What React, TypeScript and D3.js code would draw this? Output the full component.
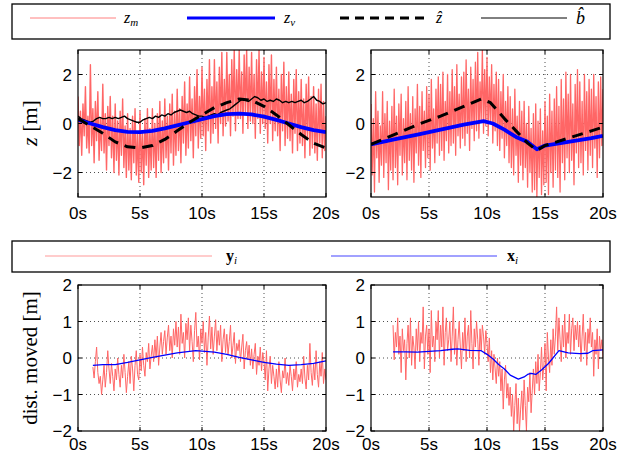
import React from 'react';
import * as d3 from 'd3';

const W = 633;
const H = 455;

const SANS = "'Liberation Sans', Arial, Helvetica, sans-serif";
const SERIF = "'Liberation Serif', 'Times New Roman', serif";

const RED = '#ff6666';
const BLUE = '#0000ff';

const xTickValues = [0, 5, 10, 15, 20];

// ---- top row, left: measured z_m, 0..20 s every 0.1 s
const zmLeft = [
  1.1, -0.9, 0.5, -1.3, 0.8, -0.5, 1.5, -1.0, 0.3, -1.2,
  2.4, -0.9, 0.6, -1.6, 0.9, -0.7, 1.3, -1.5, 0.2, -1.1,
  1.6, -1.2, 0.4, -1.9, 0.7, -0.9, 1.1, -1.4, 0.3, -2.0,
  0.8, -1.5, 0.1, -2.1, 0.5, -1.3, 1.0, -1.8, -0.1, -2.2,
  0.4, -1.9, -0.2, -2.3, 0.3, -1.6, 0.6, -2.1, -0.4, -2.4,
  0.5, -2.0, -0.3, -2.5, 0.2, -1.7, 0.6, -2.2, -0.2, -1.9,
  0.6, -1.8, 0.0, -2.2, 0.4, -1.5, 0.9, -2.0, 0.1, -1.6,
  1.0, -1.4, 0.3, -1.9, 0.8, -1.2, 1.2, -1.7, 0.5, -1.3,
  1.4, -1.1, 0.6, -1.6, 1.1, -0.8, 1.7, -1.3, 0.8, -1.0,
  1.9, -0.7, 1.0, -1.4, 1.5, -0.5, 2.2, -1.0, 1.1, -0.6,
  2.3, -0.5, 1.4, -1.1, 1.8, -0.3, 2.6, -0.8, 1.5, -0.4,
  2.6, -0.2, 1.7, -0.8, 2.3, 0.0, 2.9, -0.5, 1.8, -0.1,
  2.9, 0.1, 2.0, -0.5, 2.6, 0.3, 3.0, -0.3, 2.2, 0.2,
  3.0, 0.2, 2.1, -0.4, 2.8, 0.4, 3.0, -0.2, 2.3, 0.1,
  2.9, 0.0, 2.0, -0.6, 2.6, 0.2, 3.0, -0.4, 2.1, 0.0,
  2.7, -0.2, 1.7, -0.8, 2.4, 0.0, 2.8, -0.7, 1.8, -0.3,
  2.3, -0.5, 1.4, -1.1, 2.0, -0.3, 2.5, -0.9, 1.5, -0.6,
  2.1, -0.7, 1.2, -1.2, 1.8, -0.4, 2.2, -1.1, 1.3, -0.8,
  1.8, -0.9, 1.0, -1.4, 1.6, -0.6, 1.9, -1.3, 1.1, -1.0,
  1.5, -1.2, 0.8, -1.5, 1.4, -0.8, 1.6, -1.4, 0.9, -1.1,
  0.3,
];

// velocity-filter estimate z_v
const zvLeftT = [0, 1, 2, 3, 4, 5, 6, 7, 8, 9, 10, 11, 12, 13, 14, 15, 16, 17, 18, 19, 20];
const zvLeftV = [0.15, 0.0, -0.15, -0.27, -0.34, -0.35, -0.3, -0.2, -0.08, 0.05, 0.18, 0.3, 0.38, 0.4, 0.37, 0.28, 0.15, 0.0, -0.15, -0.27, -0.35];

// estimate z-hat
const zhLeftT = [0, 1, 2, 3, 4, 5, 6, 7, 8, 9, 10, 11, 12, 13, 14, 15, 16, 17, 18, 19, 20];
const zhLeftV = [0.2, -0.1, -0.4, -0.75, -0.95, -1.0, -0.9, -0.65, -0.3, 0.05, 0.35, 0.65, 0.85, 1.0, 0.95, 0.7, 0.35, -0.05, -0.45, -0.8, -1.0];

// bias estimate b-hat (0..20 s, every 0.25 s)
const bHatLeft = [
  0.3, 0.2, 0.15, 0.1, 0.05, 0.1, 0.2, 0.25, 0.2, 0.2,
  0.25, 0.2, 0.25, 0.2, 0.25, 0.3, 0.2, 0.15, 0.1, 0.05,
  0.05, 0.15, 0.2, 0.25, 0.2, 0.3, 0.25, 0.35, 0.3, 0.4,
  0.35, 0.45, 0.5, 0.55, 0.5, 0.45, 0.5, 0.4, 0.35, 0.3,
  0.3, 0.25, 0.3, 0.35, 0.4, 0.35, 0.45, 0.5, 0.55, 0.6,
  0.7, 0.8, 0.9, 1.0, 0.95, 0.9, 1.0, 1.1, 1.05, 0.95,
  1.0, 0.9, 0.95, 0.9, 1.0, 0.95, 0.85, 0.9, 0.85, 0.9,
  0.85, 0.9, 0.95, 0.85, 0.9, 1.0, 1.1, 0.95, 0.9, 0.8,
  0.85,
];

// ---- top row, right: measured z_m, 0..20 s every 0.1 s
const zmRight = [
  0.8, -2.1, 0.2, -2.8, 1.3, -1.4, 0.5, -2.4, -0.1, -1.7,
  1.3, -2.2, 0.4, -1.6, 0.9, -2.7, 0.1, -1.9, 0.7, -2.3,
  1.4, -1.8, 0.3, -2.5, 0.8, -1.3, 1.2, -2.1, 0.2, -1.6,
  0.9, -2.3, 1.5, -1.5, 0.4, -1.9, 1.1, -2.4, 0.6, -1.2,
  1.6, -1.7, 0.7, -2.2, 1.3, -1.1, 0.5, -1.8, 1.5, -1.4,
  1.2, -1.9, 1.8, -1.0, 0.6, -1.6, 1.4, -0.8, 1.9, -1.3,
  1.6, -1.1, 2.1, -1.5, 0.9, -0.7, 2.0, -1.2, 1.3, -0.9,
  2.2, -0.8, 1.5, -1.3, 2.4, -0.5, 1.2, -1.0, 1.9, -0.6,
  2.1, -0.9, 2.6, -0.4, 1.4, -1.1, 2.3, -0.2, 1.8, -0.7,
  2.5, -0.3, 2.9, -0.6, 1.7, 0.1, 3.0, -0.4, 2.2, -0.1,
  2.7, -0.5, 1.9, 0.0, 2.4, -0.8, 1.6, -0.3, 2.1, -0.9,
  1.8, -1.1, 1.3, -0.6, 2.0, -1.4, 0.9, -0.9, 1.5, -1.6,
  1.1, -1.8, 0.6, -2.1, 1.4, -1.3, 0.3, -2.4, 0.9, -1.7,
  0.5, -2.3, 0.9, -1.8, 0.0, -2.6, 0.7, -2.0, -0.2, -2.8,
  0.4, -2.7, 0.8, -3.0, 0.1, -2.2, 0.6, -2.9, -0.3, -2.5,
  0.9, -2.4, 0.3, -2.9, 1.2, -2.0, 0.5, -2.6, 1.0, -1.9,
  1.5, -2.2, 0.7, -2.8, 1.8, -1.6, 1.0, -2.3, 2.1, -1.4,
  1.2, -2.0, 2.0, -1.5, 0.8, -2.5, 1.6, -1.2, 2.2, -1.8,
  1.7, -1.6, 0.9, -2.1, 2.0, -1.1, 1.3, -1.9, 1.8, -1.3,
  1.4, -1.8, 2.0, -1.0, 1.1, -2.2, 1.7, -1.4, 1.9, -0.9,
  1.4,
];

const zvRightT = [0, 2, 4, 6, 8, 9.7, 10.5, 11.5, 12.5, 13.5, 14.3, 15, 17, 19, 20];
const zvRightV = [-0.85, -0.65, -0.45, -0.25, -0.05, 0.1, 0.0, -0.25, -0.55, -0.75, -1.05, -0.9, -0.75, -0.6, -0.5];

const zhRightT = [0, 2, 4, 6, 8, 9.5, 10.3, 11.5, 12.5, 13.5, 14.3, 15, 17, 19, 20];
const zhRightV = [-0.85, -0.45, -0.05, 0.3, 0.7, 1.0, 0.85, 0.2, -0.3, -0.8, -1.1, -0.9, -0.6, -0.3, -0.15];

// ---- bottom row, left: y_i from 1.2 s to 20 s every 0.1 s
const yiLeftSpan = [1.2, 20];
const yiLeft = [
  -0.25, -0.55, -0.1, 0.3, -0.4, -0.7, -0.5, -1.0,
  -0.6, -0.2, -0.8, -0.4, 0.2, -0.3, -0.7, -0.15, -0.5, -0.9,
  -0.3, -0.6, 0.0, -0.45, -0.8, -0.2, -0.55, 0.1, -0.4, -0.95,
  -0.5, -0.1, -0.7, 0.05, -0.3, -0.9, -0.2, 0.2, -0.45, -0.6,
  0.1, -0.35, 0.3, -0.2, -0.5, 0.15, -0.1, 0.4, -0.3, 0.05,
  0.35, -0.1, 0.5, 0.0, 0.6, -0.2, 0.3, 0.7, 0.1, 0.45,
  0.75, 0.1, 0.55, 0.9, 0.2, 0.6, 0.0, 0.8, 0.35, 1.0,
  0.3, 0.85, 0.1, 1.2, 0.4, 0.7, 0.0, 0.95, 0.5, 1.1,
  0.2, 0.9, 0.45, -0.1, 0.75, 1.25, 0.3, 0.6, -0.05, 0.8,
  0.4, 1.0, 0.15, 0.7, -0.2, 0.55, 1.15, 0.25, 0.85, 0.1,
  0.6, 1.05, 0.2, 0.75, 0.35, 0.9, -0.1, 0.5, 0.8, 0.15,
  0.65, 0.1, 0.45, 0.9, 0.0, 0.35, 0.7, -0.15, 0.4, 0.2,
  0.5, -0.1, 0.3, 0.65, -0.3, 0.2, 0.45, -0.05, 0.35, -0.2,
  0.25, -0.3, 0.1, 0.4, -0.45, 0.05, -0.2, 0.3, -0.35, 0.15,
  -0.1, -0.6, 0.2, -0.9, -0.3, 0.05, -0.7, -0.2, -0.5, -0.85,
  -0.3, -0.8, -0.1, -0.6, -0.95, -0.35, -0.55, 0.0, -0.7, -0.4,
  -0.75, -0.2, -0.5, -0.9, -0.3, -0.6, -0.1, -0.8, -0.45, -0.65,
  -0.3, -0.7, 0.05, -0.55, -0.85, -0.2, -0.6, 0.4, -0.4, -0.75,
  -0.15, -0.6, 0.2, -0.45, -0.8, -0.1, -0.5, 0.15, -0.7, -0.3,
  -0.6,
];

const xiLeftT = [1.2, 2, 3, 4, 5, 6, 7, 8, 9, 9.5, 10, 11, 12, 13, 14, 15, 16, 17, 18, 19, 20];
const xiLeftV = [-0.2, -0.18, -0.18, -0.12, -0.05, 0.02, 0.08, 0.14, 0.18, 0.2, 0.19, 0.16, 0.1, 0.02, -0.05, -0.12, -0.17, -0.2, -0.18, -0.15, -0.08];

// ---- bottom row, right: y_i from 1.9 s to 20 s every 0.1 s
const yiRightSpan = [1.9, 20];
const yiRight = [
  0.9,
  -0.05, 0.7, 0.3, 1.1, 0.1, 0.6, -0.4, 0.8, 0.2, 0.5,
  -0.6, 0.4, 0.9, 0.0, 1.1, -0.2, 0.6, 0.3, -0.3, 0.8,
  0.2, 1.0, -0.1, 0.7, 0.4, 1.4, -0.3, 0.6, 0.9, 0.1,
  0.8, -0.4, 1.3, 0.3, 0.6, -0.1, 1.0, 0.5, 1.3, 0.0,
  0.9, 0.3, 1.4, -0.2, 0.7, 1.1, 0.2, 0.5, 1.0, -0.1,
  0.6, 1.4, 0.1, 0.8, -0.2, 0.5, 1.0, 0.3, -0.3, 0.7,
  0.2, 1.1, -0.1, 0.6, 0.9, 0.0, 1.3, 0.4, -0.3, 0.8,
  0.3, 1.0, 0.5, -0.2, 0.8, 0.2, 0.9, 0.6, 0.1, 0.75,
  0.4, -0.1, 0.55, -0.4, 0.2, -0.6, 0.1, -0.3, -0.7, 0.0,
  -0.5, -0.1, -0.9, -0.3, -1.4, -0.6, -0.2, -1.1, -0.7, -1.3,
  -0.8, -1.6, -1.0, -2.0, -1.3, -0.7, -1.8, -1.1, -2.0, -1.4,
  -0.9, -1.7, -0.6, -1.3, -2.0, -0.8, -1.2, -0.4, -1.5, -0.9,
  -0.3, -1.0, -0.1, -0.7, 0.1, -0.9, -0.4, 0.3, -0.6, -0.2,
  0.4, -0.9, 0.7, 0.0, -0.4, 0.5, -0.2, 0.8, 0.1, 0.6,
  1.4, 0.2, 1.1, 0.5, -0.1, 0.9, 0.3, 1.2, 0.0, 0.7,
  0.4, 1.2, 0.1, 0.8, 1.1, 0.2, 0.9, 0.5, 1.0, 0.3,
  0.9, -0.1, 0.6, 1.2, 0.2, 0.7, -0.2, 0.8, 0.4, 1.1,
  0.3, 0.7, -0.5, 0.5, 0.1, 0.8, -0.3, 0.6, 0.2, 0.5,
  0.0,
];

const xiRightT = [1.9, 3, 4, 5, 6, 7, 7.5, 8.5, 9.5, 10, 10.5, 11, 11.5, 12, 12.7, 13.2, 13.5, 13.8, 14.2, 14.7, 15.3, 16.2, 17, 18, 18.7, 19.1, 20];
const xiRightV = [0.17, 0.17, 0.16, 0.18, 0.2, 0.24, 0.25, 0.21, 0.2, 0.1, -0.02, -0.18, -0.3, -0.47, -0.58, -0.52, -0.45, -0.42, -0.45, -0.33, -0.15, 0.2, 0.14, 0.12, 0.13, 0.2, 0.22];

type Box = { left: number; right: number; top: number; bottom: number };
type Series = { t: number[]; v: number[]; color: string; width: number; dash?: string };

const spread = (vals: number[], t0: number, t1: number) =>
  vals.map((_, i) => t0 + (i * (t1 - t0)) / (vals.length - 1));

const fmt = (d: number) => (d < 0 ? '\u2212' + Math.abs(d) : String(d));

function Panel({ id, box, yDomain, yTicks, series }: { id: string; box: Box; yDomain: [number, number]; yTicks: number[]; series: Series[] }) {
  const x = d3.scaleLinear().domain([0, 20]).range([box.left, box.right]);
  const y = d3.scaleLinear().domain(yDomain).range([box.bottom, box.top]);
  const tl = 4;
  // the bottom row sits right on the page edge
  const labelY = Math.min(box.bottom + 22, H - 5);

  return (
    <g>
      <defs>
        <clipPath id={id}>
          <rect x={box.left} y={box.top} width={box.right - box.left} height={box.bottom - box.top} />
        </clipPath>
      </defs>
      <rect x={box.left} y={box.top} width={box.right - box.left} height={box.bottom - box.top} fill="#fff" />
      {/* dotted grid */}
      {xTickValues.slice(1, -1).map((d) => (
        <line key={'gx' + d} x1={x(d)} x2={x(d)} y1={box.top} y2={box.bottom} stroke="#222" strokeWidth={0.8} strokeDasharray="1,3" />
      ))}
      {yTicks.filter((d) => d > yDomain[0] && d < yDomain[1]).map((d) => (
        <line key={'gy' + d} x1={box.left} x2={box.right} y1={y(d)} y2={y(d)} stroke="#222" strokeWidth={0.8} strokeDasharray="1,3" />
      ))}
      <g clipPath={`url(#${id})`}>
        {series.map((s, i) => {
          const line = d3.line<number>().x((_, j) => x(s.t[j])).y((d) => y(d));
          return (
            <path key={i} d={line(s.v) || ''} fill="none" stroke={s.color} strokeWidth={s.width} strokeDasharray={s.dash} strokeLinejoin="round" />
          );
        })}
      </g>
      <rect x={box.left} y={box.top} width={box.right - box.left} height={box.bottom - box.top} fill="none" stroke="#000" strokeWidth={1.2} />
      {/* inner ticks */}
      {xTickValues.map((d) => (
        <g key={'tx' + d}>
          <line x1={x(d)} x2={x(d)} y1={box.bottom} y2={box.bottom - tl} stroke="#000" />
          <line x1={x(d)} x2={x(d)} y1={box.top} y2={box.top + tl} stroke="#000" />
          <text x={x(d)} y={labelY} textAnchor="middle" fontFamily={SANS} fontSize={17} fill="#000">
            {d + 's'}
          </text>
        </g>
      ))}
      {yTicks.map((d) => (
        <g key={'ty' + d}>
          <line x1={box.left} x2={box.left + tl} y1={y(d)} y2={y(d)} stroke="#000" />
          <line x1={box.right} x2={box.right - tl} y1={y(d)} y2={y(d)} stroke="#000" />
          <text x={box.left - 6} y={y(d) + 6} textAnchor="end" fontFamily={SANS} fontSize={17} fill="#000">
            {fmt(d)}
          </text>
        </g>
      ))}
    </g>
  );
}

export default function App() {
  const topL: Box = { left: 78, right: 326, top: 50, bottom: 197 };
  const topR: Box = { left: 371, right: 603, top: 50, bottom: 197 };
  const botL: Box = { left: 78, right: 326, top: 285, bottom: 431 };
  const botR: Box = { left: 371, right: 603, top: 285, bottom: 431 };

  return (
    <svg width={W} height={H} viewBox={`0 0 ${W} ${H}`} style={{ position: 'absolute', left: 0, top: 0, background: '#fff' }}>
      {/* top legend */}
      <rect x={12} y={4} width={598} height={35} fill="#fff" stroke="#000" strokeWidth={1.3} />
      <g fontFamily={SERIF} fontSize={16} fontStyle="italic">
        <line x1={30} x2={116} y1={18} y2={18} stroke="#ff8080" strokeWidth={1} />
        <text x={124} y={23}>z<tspan fontSize={11} dy={3}>m</tspan></text>
        <line x1={187} x2={275} y1={18} y2={18} stroke={BLUE} strokeWidth={3} />
        <text x={284} y={23}>z<tspan fontSize={11} dy={3}>v</tspan></text>
        <line x1={340} x2={428} y1={18} y2={18} stroke="#000" strokeWidth={3} strokeDasharray="9,6" />
        <text x={436} y={23}>{'\u1E91'}</text>
        <line x1={481} x2={567} y1={18} y2={18} stroke="#000" strokeWidth={1} />
        <text x={576} y={24} fontSize={18}>{'b\u0302'}</text>
      </g>

      <Panel
        id="c-tl"
        box={topL}
        yDomain={[-3, 3]}
        yTicks={[-2, 0, 2]}
        series={[
          { t: spread(zmLeft, 0, 20), v: zmLeft, color: RED, width: 1.4 },
          { t: spread(bHatLeft, 0, 20), v: bHatLeft, color: '#000', width: 1.4 },
          { t: zvLeftT, v: zvLeftV, color: BLUE, width: 3.8 },
          { t: zhLeftT, v: zhLeftV, color: '#000', width: 3, dash: '11,7' },
        ]}
      />
      <Panel
        id="c-tr"
        box={topR}
        yDomain={[-3, 3]}
        yTicks={[-2, 0, 2]}
        series={[
          { t: spread(zmRight, 0, 20), v: zmRight, color: RED, width: 1.3 },
          { t: zvRightT, v: zvRightV, color: BLUE, width: 3.8 },
          { t: zhRightT, v: zhRightV, color: '#000', width: 3, dash: '11,7' },
        ]}
      />
      <text transform="translate(37,123) rotate(-90)" textAnchor="middle" fontFamily={SERIF} fontSize={22}>
        <tspan fontStyle="italic">z</tspan> [m]
      </text>

      {/* middle legend */}
      <rect x={12} y={241} width={598} height={31} fill="#fff" stroke="#000" strokeWidth={1.3} />
      <g fontFamily={SERIF} fontSize={16}>
        <line x1={45} x2={212} y1={256} y2={256} stroke="#ff9999" strokeWidth={1.2} />
        <text x={226} y={261} fontWeight="bold">y<tspan fontSize={11} dy={3} fontWeight="normal" fontStyle="italic">i</tspan></text>
        <line x1={331} x2={497} y1={256} y2={256} stroke="#4444ff" strokeWidth={1.2} />
        <text x={507} y={261} fontWeight="bold">x<tspan fontSize={11} dy={3} fontWeight="normal" fontStyle="italic">i</tspan></text>
      </g>

      <Panel
        id="c-bl"
        box={botL}
        yDomain={[-2, 2]}
        yTicks={[-2, -1, 0, 1, 2]}
        series={[
          { t: spread(yiLeft, yiLeftSpan[0], yiLeftSpan[1]), v: yiLeft, color: RED, width: 1 },
          { t: xiLeftT, v: xiLeftV, color: BLUE, width: 1.3 },
        ]}
      />
      <Panel
        id="c-br"
        box={botR}
        yDomain={[-2, 2]}
        yTicks={[-2, -1, 0, 1, 2]}
        series={[
          { t: spread(yiRight, yiRightSpan[0], yiRightSpan[1]), v: yiRight, color: RED, width: 1 },
          { t: xiRightT, v: xiRightV, color: BLUE, width: 1.3 },
        ]}
      />
      <text transform="translate(37,358) rotate(-90)" textAnchor="middle" fontFamily={SERIF} fontSize={21}>
        dist. moved [m]
      </text>
    </svg>
  );
}
